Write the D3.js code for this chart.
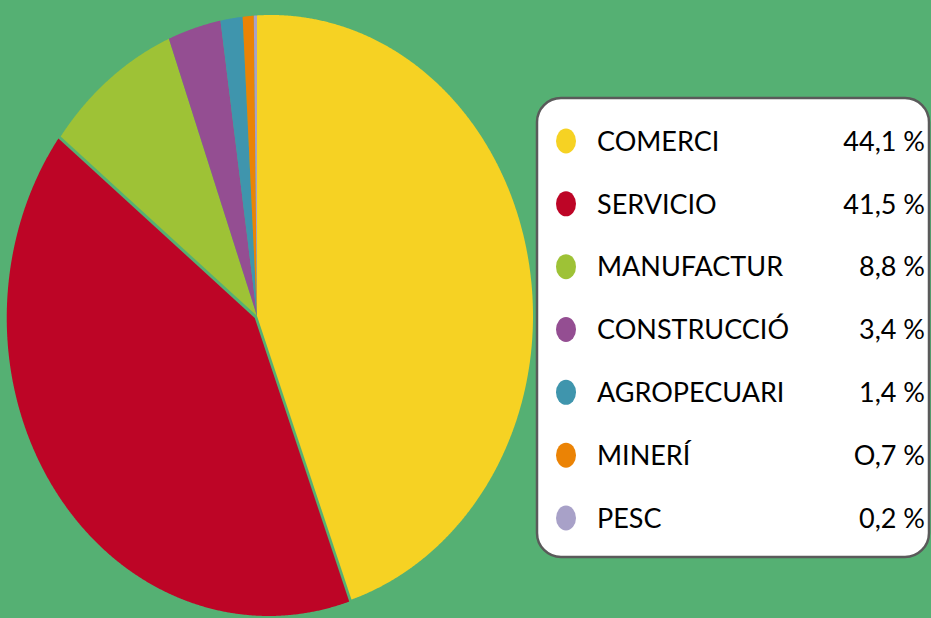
<!DOCTYPE html>
<html>
<head>
<meta charset="utf-8">
<script src="https://cdn.jsdelivr.net/npm/d3@7"></script>
<style>
  html, body { margin: 0; padding: 0; background: #55B073; overflow: hidden; }
  svg { display: block; }
  text { font-family: Lato, "Open Sans", sans-serif; fill: #000; }
</style>
</head>
<body>
<svg id="chart" width="931" height="618"></svg>
<script>
// Share of businesses by economic sector (%)
const categories  = ["COMERCI", "SERVICIO", "MANUFACTUR", "CONSTRUCCIÓ", "AGROPECUARI", "MINERÍ", "PESC"];
const shares      = [44.1, 41.5, 8.8, 3.4, 1.4, 0.7, 0.2];
const shareLabels = ["44,1 %", "41,5 %", "8,8 %", "3,4 %", "1,4 %", "O,7 %", "0,2 %"];
const colors      = ["#F6D223", "#BD0526", "#9EC236", "#944E92", "#3F95AD", "#EB8305", "#A8A1C8"];

// ---- layout ----
const W = 931, H = 618;
const apex = { x: 257, y: 316 };                                   // where the slices meet
const rim  = { cx: 271, cy: 316, rx: 262, ryTop: 301, ryBottom: 298 }; // outer edge of the pie
const squash = 0.85;                                               // horizontal squeeze of slice directions
const explode = { "SERVICIO": 3 };

const svg = d3.select("#chart");

svg.append("rect").attr("width", W).attr("height", H).attr("fill", "#55B073");

// map a pie angle to the drawn angle around the apex
function warp(theta) {
  let phi = Math.atan2(squash * Math.sin(theta), Math.cos(theta));
  while (phi < theta - Math.PI) phi += 2 * Math.PI;
  return phi;
}

// point where a ray from the apex meets the outer rim
function rimPoint(phi) {
  const ux = Math.sin(phi), uy = -Math.cos(phi);
  const ry = uy < 0 ? rim.ryTop : rim.ryBottom;
  const dx0 = apex.x - rim.cx, dy0 = apex.y - rim.cy;
  const A = ux * ux / (rim.rx * rim.rx) + uy * uy / (ry * ry);
  const B = 2 * (dx0 * ux / (rim.rx * rim.rx) + dy0 * uy / (ry * ry));
  const C = dx0 * dx0 / (rim.rx * rim.rx) + dy0 * dy0 / (ry * ry) - 1;
  const t = (-B + Math.sqrt(B * B - 4 * A * C)) / (2 * A);
  return [apex.x + t * ux, apex.y + t * uy];
}

const pie = d3.pie().value(d => d.value).sort(null);
const data = categories.map((c, i) => ({ name: c, value: shares[i], color: colors[i] }));
const arcs = pie(data);
const line = d3.line();

function slicePath(a) {
  const pts = [[apex.x, apex.y]];
  const n = Math.max(2, Math.ceil((a.endAngle - a.startAngle) / 0.004));
  for (let s = 0; s <= n; s++) {
    const th = a.startAngle + (a.endAngle - a.startAngle) * s / n;
    pts.push(rimPoint(warp(th)));
  }
  return line(pts) + "Z";
}

svg.append("g").attr("class", "slices")
  .selectAll("path")
  .data(arcs)
  .join("path")
  .attr("d", slicePath)
  .attr("fill", d => d.data.color)
  .attr("transform", d => {
    const e = explode[d.data.name] || 0;
    const mid = warp((d.startAngle + d.endAngle) / 2);
    return `translate(${e * Math.sin(mid)},${-e * Math.cos(mid)})`;
  });

// ---- legend ----
const legend = svg.append("g").attr("class", "legend");
legend.append("rect")
  .attr("x", 537).attr("y", 98)
  .attr("width", 392).attr("height", 459)
  .attr("rx", 24).attr("ry", 24)
  .attr("fill", "#fff")
  .attr("stroke", "#5a5a5a")
  .attr("stroke-width", 2.5);

const rowY = d3.scalePoint().domain(categories).range([141, 518]);

const rows = legend.selectAll("g.row")
  .data(data)
  .join("g")
  .attr("class", "row")
  .attr("transform", d => `translate(0,${rowY(d.name)})`);

rows.append("ellipse")
  .attr("cx", 566).attr("cy", 0)
  .attr("rx", 10).attr("ry", 12.5)
  .attr("fill", d => d.color);

rows.append("text")
  .attr("x", 597).attr("dy", "0.36em")
  .attr("font-size", 27)
  .text(d => d.name);

rows.append("text")
  .attr("x", 925).attr("dy", "0.36em")
  .attr("text-anchor", "end")
  .attr("font-size", 27)
  .text((d, i) => shareLabels[i]);
</script>
</body>
</html>
